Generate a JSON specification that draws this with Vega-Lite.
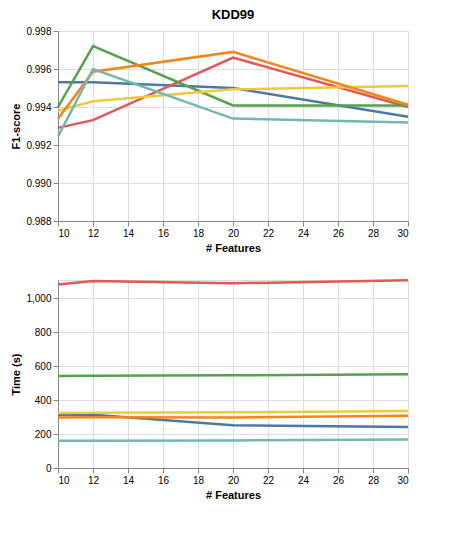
{
  "$schema": "https://vega.github.io/schema/vega-lite/v6.json",
  "background": "white",
  "padding": {"left": 10, "top": 8, "right": 4, "bottom": 4},
  "data": {
    "values": [
      {"method": "FCBF#", "features": 10, "f1": 0.9953, "time": 312},
      {"method": "FCBF#", "features": 12, "f1": 0.9953, "time": 314},
      {"method": "FCBF#", "features": 20, "f1": 0.995, "time": 252},
      {"method": "FCBF#", "features": 30, "f1": 0.99349, "time": 241},
      {"method": "FCBiP-2", "features": 10, "f1": 0.9929, "time": 1080},
      {"method": "FCBiP-2", "features": 12, "f1": 0.99331, "time": 1101},
      {"method": "FCBiP-2", "features": 20, "f1": 0.9966, "time": 1088},
      {"method": "FCBiP-2", "features": 30, "f1": 0.994, "time": 1105},
      {"method": "FCBiP-5", "features": 10, "f1": 0.994, "time": 542},
      {"method": "FCBiP-5", "features": 12, "f1": 0.99721, "time": 543},
      {"method": "FCBiP-5", "features": 20, "f1": 0.99408, "time": 546},
      {"method": "FCBiP-5", "features": 30, "f1": 0.99408, "time": 552},
      {"method": "FCBiP-8", "features": 10, "f1": 0.9938, "time": 324},
      {"method": "FCBiP-8", "features": 12, "f1": 0.9943, "time": 325},
      {"method": "FCBiP-8", "features": 20, "f1": 0.99493, "time": 328},
      {"method": "FCBiP-8", "features": 30, "f1": 0.9951, "time": 335},
      {"method": "FCBiP-10", "features": 10, "f1": 0.99338, "time": 298},
      {"method": "FCBiP-10", "features": 12, "f1": 0.99586, "time": 299},
      {"method": "FCBiP-10", "features": 20, "f1": 0.9969, "time": 298},
      {"method": "FCBiP-10", "features": 30, "f1": 0.99412, "time": 307},
      {"method": "FCBiP-20", "features": 10, "f1": 0.99244, "time": 160},
      {"method": "FCBiP-20", "features": 12, "f1": 0.996, "time": 161},
      {"method": "FCBiP-20", "features": 20, "f1": 0.99339, "time": 162},
      {"method": "FCBiP-20", "features": 30, "f1": 0.99319, "time": 168}
    ]
  },
  "vconcat": [
    {
      "width": 350,
      "height": 190,
      "title": "KDD99",
      "mark": {"type": "line", "strokeWidth": 2.5},
      "encoding": {
        "x": {"field": "features", "type": "quantitative", "scale": {"domain": [10, 30], "nice": false, "zero": false}, "title": "# Features"},
        "y": {"field": "f1", "type": "quantitative", "scale": {"domain": [0.988, 0.998], "nice": false, "zero": false}, "title": "F1-score"},
        "color": {"field": "method", "type": "nominal", "legend": null}
      }
    },
    {
      "width": 350,
      "height": 188,
      "mark": {"type": "line", "strokeWidth": 2.5},
      "encoding": {
        "x": {"field": "features", "type": "quantitative", "scale": {"domain": [10, 30], "nice": false, "zero": false}, "title": "# Features"},
        "y": {"field": "time", "type": "quantitative", "scale": {"domain": [0, 1107], "nice": false, "zero": false}, "title": "Time (s)"},
        "color": {"field": "method", "type": "nominal", "legend": null}
      }
    }
  ]
}
